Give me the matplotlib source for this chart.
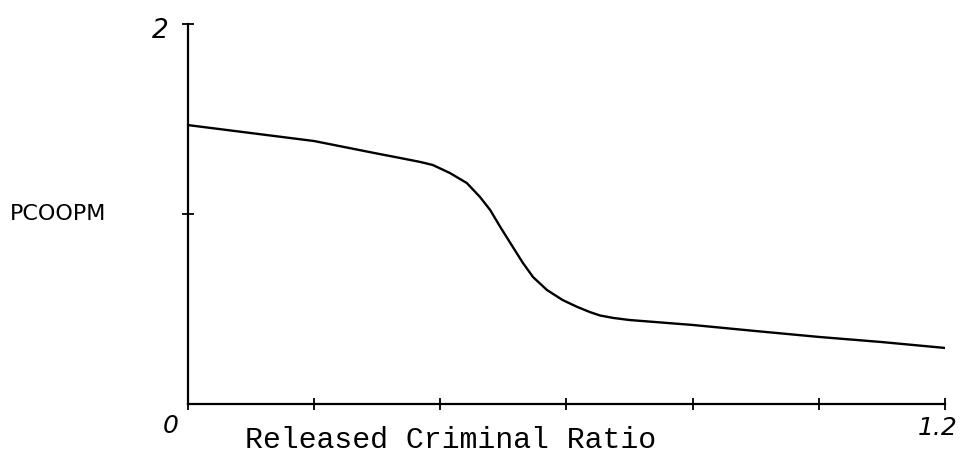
import matplotlib
matplotlib.use("Agg")
import matplotlib.pyplot as plt

# Data
ratio = [0.0, 0.1, 0.2, 0.3, 0.336, 0.368, 0.388, 0.415, 0.442, 0.463, 0.479, 0.495, 0.515, 0.531,
         0.547, 0.569, 0.594, 0.617, 0.637, 0.653, 0.674, 0.70, 0.8, 0.9, 1.0, 1.1, 1.2]
pcoopm = [1.468, 1.426, 1.384, 1.318, 1.295, 1.274, 1.258, 1.216, 1.163, 1.089, 1.021, 0.932, 0.826, 0.742,
          0.668, 0.600, 0.547, 0.511, 0.484, 0.466, 0.453, 0.442, 0.416, 0.384, 0.353, 0.326, 0.295]
x_ticks = [0.0, 0.2, 0.4, 0.6, 0.8, 1.0, 1.2]
y_ticks = [1, 2]

fig = plt.figure(figsize=(9.7, 4.62), dpi=100)
ax = fig.add_axes([188/970, 1-404/462, (945-188)/970, (404-24)/462])
ax.plot(ratio, pcoopm, color="black", lw=1.7, solid_joinstyle="round", solid_capstyle="round")
ax.set_xlim(0, 1.2)
ax.set_ylim(0, 2)
for s in ("top", "right"):
    ax.spines[s].set_visible(False)
for s in ("left", "bottom"):
    ax.spines[s].set_linewidth(1.6)
ax.set_xticks(x_ticks)
ax.set_yticks(y_ticks)
ax.set_xticklabels([])
ax.set_yticklabels([])
ax.tick_params(direction="inout", length=9, width=1.3, color="black")

hand = dict(family="DejaVu Sans", style="italic", color="black")
fig.text(160/970, 1-31/462, "2", ha="center", va="center", fontsize=19, **hand)
fig.text(171/970, 1-426/462, "0", ha="center", va="center", fontsize=18, **hand)
fig.text(938/970, 1-428/462, "1.2", ha="center", va="center", fontsize=18, **hand)
fig.text(10/970, 1-214/462, "PCOOPM", ha="left", va="center", fontsize=16,
         family="DejaVu Sans", color="black")
fig.text(451/970, 1-440/462, "Released Criminal Ratio", ha="center", va="center",
         fontsize=21.5, family="Liberation Mono", color="black")

fig.savefig("out.png", dpi=100)
